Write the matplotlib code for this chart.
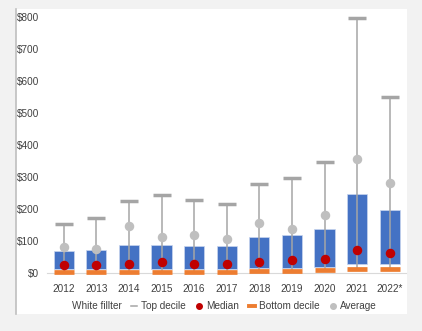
import matplotlib.pyplot as plt
from matplotlib.lines import Line2D
from matplotlib.patches import Rectangle, Patch

# values (USD)
years = ['2012', '2013', '2014', '2015', '2016', '2017', '2018', '2019', '2020', '2021', '2022*']
bottom_decile = [5, 5, 5, 5, 5, 5, 7, 8, 10, 12, 12]
white_filler = [12, 12, 12, 12, 13, 14, 16, 16, 19, 28, 28]
box_top = [71, 73, 88, 88, 85, 84, 112, 119, 137, 249, 198]
median = [26, 26, 29, 34, 30, 30, 34, 42, 44, 73, 63]
average = [83, 76, 149, 114, 119, 108, 158, 137, 181, 358, 283]
top_decile = [155, 173, 225, 244, 228, 218, 279, 299, 349, 799, 551]

plt.rcParams['font.family'] = ['Liberation Sans', 'DejaVu Sans']

fig = plt.figure(figsize=(4.22, 3.31), dpi=100)
fig.patch.set_facecolor('#f2f2f2')
W, H = 422, 331

# white chart area with left border
fig.patches.append(Rectangle((16 / W, 1 - 314 / H), (407 - 16) / W, (314 - 9) / H,
                             transform=fig.transFigure, facecolor='white', edgecolor='none', zorder=-10))
fig.lines.append(Line2D([16 / W, 16 / W], [1 - 314 / H, 1 - 9 / H], transform=fig.transFigure,
                        color='#bfbfbf', lw=1.2, zorder=-9))

ax = fig.add_axes([47.4 / W, 1 - 273.3 / H, (406 - 47.4) / W, (273.3 - 17.3) / H])
ax.set_facecolor('none')

x = list(range(len(years)))
box_h = [t - b for t, b in zip(box_top, white_filler)]

ax.bar(x, white_filler, width=0.62, color='white', zorder=1)
ax.bar(x, box_h, bottom=white_filler, width=0.62, color='#4472c4', edgecolor='#c9d6ee', lw=0.5, zorder=2)
ax.vlines(x, bottom_decile, top_decile, color='#a5a5a5', lw=1.1, zorder=3)
ax.scatter(x, top_decile, marker='_', s=150, linewidths=2.5, color='#a5a5a5', zorder=4, clip_on=False)
ax.scatter(x, bottom_decile, marker='_', s=205, linewidths=3.4, color='#ed7d31', zorder=4, clip_on=False)
ax.scatter(x, average, s=34, color='#bfbfbf', zorder=5)
ax.scatter(x, median, s=34, color='#c00000', zorder=6)

ax.set_xlim(-0.5, len(years) - 0.5)
ax.set_ylim(0, 800)
ax.set_yticks(range(0, 801, 100))
ax.set_yticklabels([f'${v}' for v in range(0, 801, 100)])
ax.set_xticks(x)
ax.set_xticklabels(years)
ax.tick_params(length=0, labelsize=7.2, colors='#404040')
ax.tick_params(axis='x', pad=7.5)
ax.tick_params(axis='y', pad=6)
for s in ['top', 'right', 'left']:
    ax.spines[s].set_visible(False)
ax.spines['bottom'].set_color('#d9d9d9')

handles = [
    Patch(facecolor='white', edgecolor='none'),
    Line2D([], [], color='#a5a5a5', lw=1.1),
    Line2D([], [], marker='o', ls='none', color='#c00000', markersize=4),
    Line2D([], [], color='#ed7d31', lw=2.8),
    Line2D([], [], marker='o', ls='none', color='#bfbfbf', markersize=4),
]
labels = ['White fillter', 'Top decile', 'Median', 'Bottom decile', 'Average']
fig.legend(handles, labels, ncol=5, loc='center', bbox_to_anchor=(219 / W, 1 - 306 / H),
           frameon=False, fontsize=7.2, handlelength=0.6, handletextpad=0.4, columnspacing=1.0,
           labelcolor='#404040')

fig.savefig('out.png', dpi=100, facecolor=fig.get_facecolor())
